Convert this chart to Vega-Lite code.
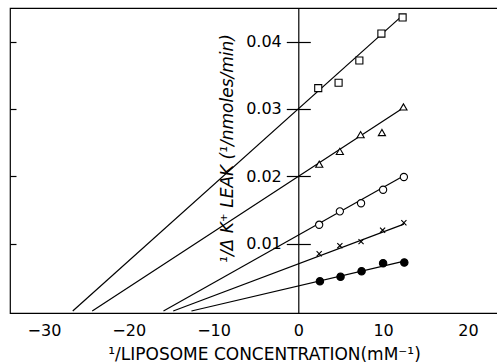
{
  "$schema": "https://vega.github.io/schema/vega-lite/v6.json",
  "width": 488,
  "height": 305,
  "autosize": "none",
  "padding": {"left": 10, "top": 8, "right": 0, "bottom": 51},
  "config": {
    "view": {"stroke": "black", "strokeWidth": 1.2},
    "font": "DejaVu Sans",
    "axis": {"labelFont": "DejaVu Sans", "titleFont": "DejaVu Sans", "labelColor": "black", "titleColor": "black", "tickColor": "black", "domainColor": "black", "tickWidth": 1.2, "domainWidth": 1.2, "grid": false}
  },
  "datasets": {
    "lines": [
      {"series": "sq", "x": -26.6, "y": 0}, {"series": "sq", "x": 12.3, "y": 0.0439},
      {"series": "tri", "x": -24.3, "y": 0}, {"series": "tri", "x": 12.4, "y": 0.0302},
      {"series": "circ", "x": -15.9, "y": 0}, {"series": "circ", "x": 12.45, "y": 0.0201},
      {"series": "cross", "x": -14.75, "y": 0}, {"series": "cross", "x": 12.45, "y": 0.0129},
      {"series": "dot", "x": -12.6, "y": 0}, {"series": "dot", "x": 12.5, "y": 0.0074}
    ],
    "points": [
      {"series": "sq", "x": 2.35, "y": 0.0331}, {"series": "sq", "x": 4.75, "y": 0.0339}, {"series": "sq", "x": 7.2, "y": 0.0372}, {"series": "sq", "x": 9.8, "y": 0.0412}, {"series": "sq", "x": 12.3, "y": 0.0436},
      {"series": "tri", "x": 2.47, "y": 0.0218}, {"series": "tri", "x": 4.9, "y": 0.0237}, {"series": "tri", "x": 7.35, "y": 0.0262}, {"series": "tri", "x": 9.86, "y": 0.0265}, {"series": "tri", "x": 12.4, "y": 0.0303},
      {"series": "circ", "x": 2.46, "y": 0.0128}, {"series": "circ", "x": 4.9, "y": 0.0148}, {"series": "circ", "x": 7.4, "y": 0.016}, {"series": "circ", "x": 10.0, "y": 0.018}, {"series": "circ", "x": 12.45, "y": 0.0199},
      {"series": "cross", "x": 2.46, "y": 0.0085}, {"series": "cross", "x": 4.9, "y": 0.0097}, {"series": "cross", "x": 7.4, "y": 0.0103}, {"series": "cross", "x": 9.94, "y": 0.012}, {"series": "cross", "x": 12.45, "y": 0.0131},
      {"series": "dot", "x": 2.55, "y": 0.0044}, {"series": "dot", "x": 4.98, "y": 0.0051}, {"series": "dot", "x": 7.46, "y": 0.0059}, {"series": "dot", "x": 10.0, "y": 0.0071}, {"series": "dot", "x": 12.5, "y": 0.0072}
    ],
    "xticks": [{"x": -30}, {"x": -20}, {"x": -10}, {"x": 0}, {"x": 10}, {"x": 20}]
  },
  "layer": [
    {
      "encoding": {
        "x": {
          "field": "x", "type": "quantitative",
          "scale": {"domain": [-34, 23.55], "nice": false, "zero": false},
          "axis": {"orient": "bottom", "values": [-30, -20, -10, 0, 10, 20], "tickSize": 0, "labelPadding": 9, "labelFontSize": 16, "domain": false,
                   "title": "¹/LIPOSOME CONCENTRATION(mM⁻¹)", "titleFontSize": 17, "titleFontWeight": "normal", "titlePadding": 8, "titleX": 254}
        },
        "y": {
          "field": "y", "type": "quantitative",
          "scale": {"domain": [-0.0003, 0.045], "nice": false, "zero": false},
          "axis": {"orient": "left", "offset": -288.3, "values": [0.01, 0.02, 0.03, 0.04], "format": ".2f", "tickSize": 12, "labelPadding": 5, "labelFontSize": 16,
                   "title": "¹/Δ K⁺ LEAK (¹/nmoles/min)", "titleFontSize": 17, "titleFontStyle": "italic", "titleFontWeight": "normal", "titleX": -62, "titleY": 140}
        }
      },
      "layer": [
        {
          "data": {"name": "lines"},
          "mark": {"type": "line", "color": "black", "strokeWidth": 1.2},
          "encoding": {"detail": {"field": "series"}}
        },
        {
          "data": {"name": "points"},
          "mark": {"type": "point", "stroke": "black", "strokeWidth": 1.1, "opacity": 1, "fillOpacity": 1},
          "encoding": {
            "shape": {"field": "series", "type": "nominal", "legend": null,
                      "scale": {"domain": ["sq", "tri", "circ", "cross", "dot"], "range": ["square", "triangle-up", "circle", "M-0.7,-0.7L0.7,0.7M-0.7,0.7L0.7,-0.7", "circle"]}},
            "fill": {"field": "series", "type": "nominal", "legend": null,
                     "scale": {"domain": ["sq", "tri", "circ", "cross", "dot"], "range": ["white", "white", "white", "white", "black"]}},
            "size": {"field": "series", "type": "nominal", "legend": null,
                     "scale": {"domain": ["sq", "tri", "circ", "cross", "dot"], "range": [50, 55, 50, 50, 70]}}
          }
        },
        {
          "data": {"name": "xticks"},
          "mark": {"type": "tick", "orient": "vertical", "size": 22, "thickness": 1.2, "color": "black", "opacity": 1, "clip": true},
          "encoding": {"y": {"datum": -0.0003, "type": "quantitative"}}
        },
        {
          "data": {"name": "xticks"},
          "mark": {"type": "tick", "orient": "vertical", "size": 22, "thickness": 1.2, "color": "black", "opacity": 1, "clip": true},
          "encoding": {"y": {"datum": 0.045, "type": "quantitative"}}
        }
      ]
    },
    {
      "data": {"name": "points"},
      "mark": {"type": "point", "opacity": 0},
      "encoding": {
        "x": {
          "field": "x", "type": "quantitative",
          "scale": {"domain": [-34, 23.55], "nice": false, "zero": false},
          "axis": null
        },
        "y": {
          "field": "y", "type": "quantitative",
          "scale": {"domain": [-0.0003, 0.045], "nice": false, "zero": false},
          "axis": {"orient": "right", "offset": -199.7, "values": [0.01, 0.02, 0.03, 0.04], "tickSize": 12, "labels": false, "domain": false, "title": null}
        }
      }
    },
    {
      "data": {"name": "points"},
      "mark": {"type": "point", "opacity": 0},
      "encoding": {
        "x": {
          "field": "x", "type": "quantitative",
          "scale": {"domain": [-34, 23.55], "nice": false, "zero": false},
          "axis": null
        },
        "y": {
          "field": "y", "type": "quantitative",
          "scale": {"domain": [-0.0003, 0.045], "nice": false, "zero": false},
          "axis": {"orient": "right", "offset": -488, "values": [0.01, 0.02, 0.03, 0.04], "tickSize": 6, "labels": false, "domain": false, "title": null}
        }
      }
    }
  ],
  "resolve": {"axis": {"x": "independent", "y": "independent"}}
}
